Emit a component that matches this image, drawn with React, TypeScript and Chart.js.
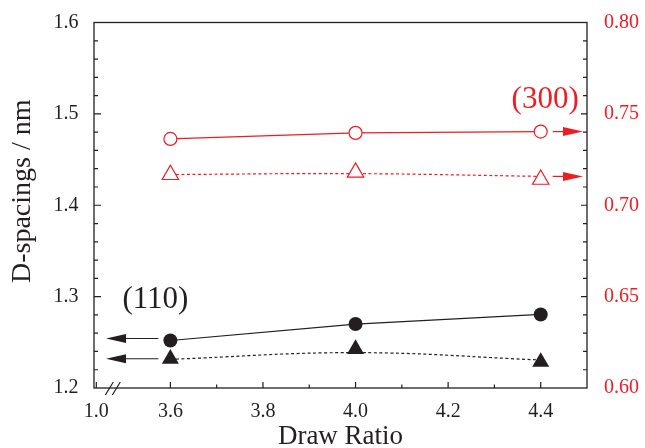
import React, { useEffect, useRef } from 'react';
import { Chart, registerables } from 'chart.js';

Chart.register(...registerables);

// ---------- data ----------
const drawRatios = [3.6, 4.0, 4.4];
// (110) reflections, left axis (nm)
const d110Circles = [1.252, 1.27, 1.2805];
const d110Triangles = [1.232, 1.2427, 1.2285];
const d110TriangleFit = [1.2314, 1.2387, 1.2307];
// (300) reflections, right axis (nm)
const d300Circles = [0.7363, 0.7396, 0.7403];
const d300Triangles = [0.7167, 0.718, 0.7141];
const d300TriangleFit = [0.7168, 0.7173, 0.7158];

// ---------- axes ----------
const xMin = 3.435;
const xMax = 4.5;
const xBreakValue = 3.44;
const xBreakLabel = '1.0';
const xTickValues = [3.6, 3.8, 4.0, 4.2, 4.4];
const xMinorTickValues = [3.7, 3.9, 4.1, 4.3];
const leftTickValues = [1.2, 1.3, 1.4, 1.5, 1.6];
const rightTickValues = [0.6, 0.65, 0.7, 0.75, 0.8];
const leftMinorStep = 0.02;
const rightMinorStep = 0.01;

const xTitle = 'Draw Ratio';
const yTitle = 'D-spacings / nm';
const label110 = '(110)';
const label300 = '(300)';

const INK = '#231f20';
const RED = '#ee1d23';
const FONT = "'Liberation Serif', 'Times New Roman', serif";

const decorPlugin = {
  id: 'decor',
  beforeDatasetsDraw(chart: any) {
    const { ctx, chartArea: a, scales } = chart;
    const xs = scales.x, ys = scales.y, y1s = scales.y1;
    ctx.save();
    ctx.strokeStyle = INK;
    ctx.lineWidth = 1.3;
    ctx.strokeRect(a.left, a.top, a.right - a.left, a.bottom - a.top);

    ctx.lineWidth = 1.2;
    ctx.beginPath();
    // left axis ticks (inward)
    const lMin = leftTickValues[0], lMax = leftTickValues[leftTickValues.length - 1];
    const nL = Math.round((lMax - lMin) / leftMinorStep);
    for (let i = 1; i < nL; i++) {
      const py = ys.getPixelForValue(lMin + i * leftMinorStep);
      const len = i % 5 === 0 ? 7 : 4;
      ctx.moveTo(a.left, py);
      ctx.lineTo(a.left + len, py);
    }
    // right axis ticks (inward)
    const rMin = rightTickValues[0], rMax = rightTickValues[rightTickValues.length - 1];
    const nR = Math.round((rMax - rMin) / rightMinorStep);
    for (let i = 1; i < nR; i++) {
      const py = y1s.getPixelForValue(rMin + i * rightMinorStep);
      const len = i % 5 === 0 ? 6 : 4;
      ctx.moveTo(a.right, py);
      ctx.lineTo(a.right - len, py);
    }
    // bottom ticks
    [xBreakValue, ...xTickValues].forEach((v) => {
      const px = xs.getPixelForValue(v);
      ctx.moveTo(px, a.bottom);
      ctx.lineTo(px, a.bottom - 6);
    });
    xMinorTickValues.forEach((v) => {
      const px = xs.getPixelForValue(v);
      ctx.moveTo(px, a.bottom);
      ctx.lineTo(px, a.bottom - 3.5);
    });
    ctx.stroke();

    // axis break marks
    const bx = xs.getPixelForValue(xBreakValue);
    ctx.beginPath();
    [13, 20].forEach((dx) => {
      ctx.moveTo(bx + dx - 4, a.bottom + 7);
      ctx.lineTo(bx + dx + 4, a.bottom - 6);
    });
    ctx.stroke();
    ctx.restore();
  },
  afterDatasetsDraw(chart: any) {
    const { ctx, chartArea: a, scales } = chart;
    const xs = scales.x, ys = scales.y, y1s = scales.y1;
    ctx.save();

    const arrow = (x0: number, tip: number, py: number, color: string) => {
      const dir = tip < x0 ? -1 : 1;
      const headLen = 20, half = 4.5;
      ctx.strokeStyle = color;
      ctx.fillStyle = color;
      ctx.lineWidth = 1.2;
      ctx.beginPath();
      ctx.moveTo(x0, py);
      ctx.lineTo(tip - dir * headLen, py);
      ctx.stroke();
      ctx.beginPath();
      ctx.moveTo(tip, py);
      ctx.lineTo(tip - dir * headLen, py - half);
      ctx.lineTo(tip - dir * headLen, py + half);
      ctx.closePath();
      ctx.fill();
    };
    const xFirst = xs.getPixelForValue(drawRatios[0]);
    const xLast = xs.getPixelForValue(drawRatios[drawRatios.length - 1]);
    arrow(xFirst - 12, a.left + 12, ys.getPixelForValue(d110Circles[0]) - 2, INK);
    arrow(xFirst - 12, a.left + 12, ys.getPixelForValue(d110Triangles[0]), INK);
    arrow(xLast + 12, a.right - 4, y1s.getPixelForValue(d300Circles[2]), RED);
    arrow(xLast + 12, a.right - 4, y1s.getPixelForValue(d300TriangleFit[2]), RED);

    ctx.font = `31px ${FONT}`;
    ctx.textBaseline = 'alphabetic';
    ctx.textAlign = 'right';
    ctx.fillStyle = INK;
    ctx.fillText(label110, xFirst + 18, ys.getPixelForValue(1.2877));
    ctx.fillStyle = RED;
    ctx.fillText(label300, xLast + 38, y1s.getPixelForValue(0.7534));

    // y-axis title
    ctx.fillStyle = INK;
    ctx.font = `28px ${FONT}`;
    ctx.textAlign = 'center';
    ctx.textBaseline = 'middle';
    ctx.translate(22.5, (a.top + a.bottom) / 2 - 14);
    ctx.rotate(-Math.PI / 2);
    ctx.fillText(yTitle, 0, 0);
    ctx.restore();
  },
};

export default function App() {
  const ref = useRef<HTMLCanvasElement>(null);
  useEffect(() => {
    if (!ref.current) return;
    const pts = (ys: number[]) => drawRatios.map((x, i) => ({ x, y: ys[i] }));
    const chart = new Chart(ref.current, {
      type: 'line',
      data: {
        datasets: [
          {
            data: pts(d110Circles), yAxisID: 'y', borderColor: INK, backgroundColor: INK,
            borderWidth: 1.2, pointStyle: 'circle', pointRadius: 7, pointBorderWidth: 0, tension: 0,
          },
          {
            data: pts(d110Triangles), yAxisID: 'y', showLine: false, borderColor: INK, backgroundColor: INK,
            pointStyle: 'triangle', pointRadius: 9.8, pointBorderWidth: 0,
          },
          {
            data: pts(d300Circles), yAxisID: 'y1', borderColor: RED, backgroundColor: '#ffffff',
            borderWidth: 1.2, pointStyle: 'circle', pointRadius: 6.5, pointBorderWidth: 1.2, tension: 0,
          },
          {
            data: pts(d300Triangles), yAxisID: 'y1', showLine: false, borderColor: RED, backgroundColor: '#ffffff',
            pointStyle: 'triangle', pointRadius: 9.5, pointBorderWidth: 1.2,
          },
          {
            data: pts(d110TriangleFit), yAxisID: 'y', borderColor: INK, borderWidth: 1.2,
            borderDash: [3, 2.5], pointRadius: 0, tension: 0.4,
          },
          {
            data: pts(d300TriangleFit), yAxisID: 'y1', borderColor: RED, borderWidth: 1.2,
            borderDash: [3, 2.5], pointRadius: 0, tension: 0.4,
          },
        ],
      },
      options: {
        responsive: false,
        devicePixelRatio: 1,
        animation: false,
        layout: { padding: { top: 22.5, left: 0, right: 0, bottom: 0 } },
        plugins: { legend: { display: false }, tooltip: { enabled: false } },
        elements: { line: { fill: false } },
        scales: {
          x: {
            type: 'linear', position: 'bottom', min: xMin, max: xMax,
            grid: { display: false }, border: { display: false },
            afterBuildTicks: (s: any) => { s.ticks = [xBreakValue, ...xTickValues].map((value) => ({ value })); },
            afterFit: (s: any) => { s.height = 60; },
            ticks: {
              autoSkip: false, maxRotation: 0, padding: 4, color: INK,
              font: { family: FONT, size: 20 },
              callback: (v: any) => (v === xBreakValue ? xBreakLabel : Number(v).toFixed(1)),
            },
            title: {
              display: true, text: xTitle, color: INK,
              font: { family: FONT, size: 27, lineHeight: 0.85 }, padding: { top: 0, bottom: 0 },
            },
          },
          y: {
            type: 'linear', position: 'left', min: 1.2, max: 1.6,
            grid: { display: false }, border: { display: false },
            afterBuildTicks: (s: any) => { s.ticks = leftTickValues.map((value) => ({ value })); },
            afterFit: (s: any) => { s.width = 94; },
            ticks: {
              padding: 7.5, color: INK, font: { family: FONT, size: 20 },
              callback: (v: any) => Number(v).toFixed(1),
            },
          },
          y1: {
            type: 'linear', position: 'right', min: 0.6, max: 0.8,
            grid: { display: false }, border: { display: false },
            afterBuildTicks: (s: any) => { s.ticks = rightTickValues.map((value) => ({ value })); },
            afterFit: (s: any) => { s.width = 58; },
            ticks: {
              padding: 9, color: RED, font: { family: FONT, size: 20 },
              callback: (v: any) => Number(v).toFixed(2),
            },
          },
        },
      },
      plugins: [decorPlugin],
    });
    return () => chart.destroy();
  }, []);
  return (
    <div style={{ position: 'fixed', left: 0, top: 0, width: 645, height: 448, background: '#fff' }}>
      <canvas ref={ref} width={645} height={448} style={{ display: 'block' }} />
    </div>
  );
}
